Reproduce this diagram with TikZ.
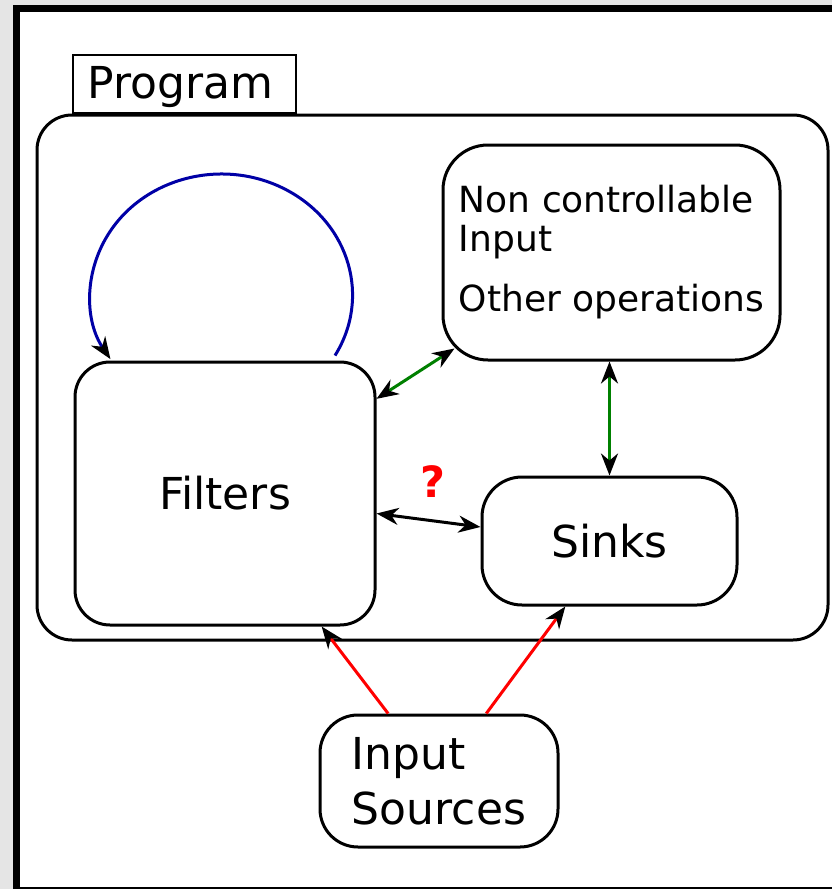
\documentclass[tikz,border=0pt]{standalone}
\usepackage{fontspec}
\setmainfont{DejaVu Sans}
\usetikzlibrary{arrows.meta}
\usetikzlibrary{calc}
\tikzset{>={Stealth[length=22pt,width=17pt,inset=7pt,color=black]}}
\tikzset{blk/.style={draw,line width=3pt,rounded corners=#1},blk/.default=38pt}
\tikzset{lnk/.style={line width=3pt}}
\tikzset{big/.style={font=\fontsize{44}{55}\selectfont}}

\begin{document}
\begin{tikzpicture}[x=1pt,y=-1pt]
\path[use as bounding box,clip] (0,0) rectangle (832,889);
\fill[gray!20] (0,0) rectangle (832,889);
\draw[line width=7pt,fill=white] (16.5,8.5) rectangle (840,890.5);

\node (prog) [blk=35pt, minimum width=791pt, minimum height=525pt] at (432.5,377.5) {};
\node (tab) [draw, line width=2.5pt, fill=white, minimum width=223pt, minimum height=58pt,
  text depth=4pt, big] at (184.5,84) {\hspace*{-8pt}Program};
\node (nonctl) [blk=45pt, minimum width=337pt, minimum height=215pt, align=left,
  font=\fontsize{36}{39}\selectfont] at (611.5,252.5) {Non controllable\\Input\\[21pt]Other operations};
\node (filt) [blk=35pt, minimum width=300pt, minimum height=263pt, big] at (225,493.5) {Filters};
\node (sinks) [blk=40pt, minimum width=255pt, minimum height=128pt, big] at (609.5,541) {Sinks};
\node (src) [blk, minimum width=238pt, minimum height=132pt, align=left, big] at (439,781) {Input\\Sources};
\node (q) [text=red, font=\fontsize{43}{43}\selectfont\bfseries] at (433,482) {?};

\draw[->, lnk, blue!65!black] ([xshift=110pt,yshift=5pt]filt.north)
  arc[start angle=30, end angle=-212, x radius=131, y radius=121];
\draw[<->, lnk, green!50!black] (filt.32) -- ([shift={(13,-13)}]nonctl.south west);
\draw[<->, lnk, green!50!black] (nonctl.south -| sinks.north) -- (sinks.north);
\draw[<->, lnk] ([yshift=-20pt]filt.east) -- ([yshift=14pt]sinks.west);
\draw[->, lnk, red] (src.127) -- (filt.306);
\draw[->, lnk, red] (src.55) -- (sinks.236);
\end{tikzpicture}
\end{document}
